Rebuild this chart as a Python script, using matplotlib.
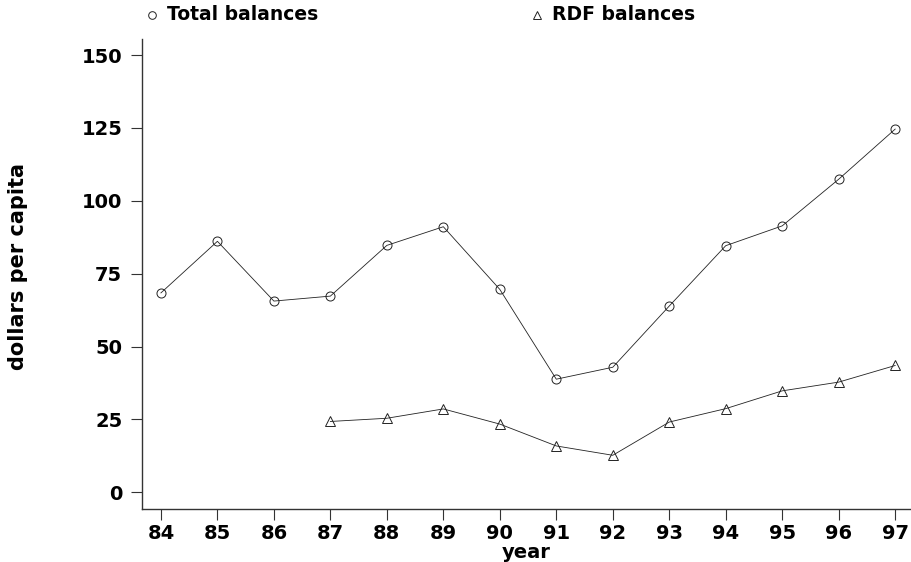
import matplotlib
matplotlib.use("Agg")
import matplotlib.pyplot as plt
from matplotlib.lines import Line2D

# balances per capita by fiscal year
years = [84, 85, 86, 87, 88, 89, 90, 91, 92, 93, 94, 95, 96, 97]
total_balances = [68.4, 86.1, 65.6, 67.3, 84.7, 91.1, 69.6, 38.8, 42.9, 63.9, 84.6, 91.4, 107.4, 124.6]
rdf_years = [87, 88, 89, 90, 91, 92, 93, 94, 95, 96, 97]
rdf_balances = [24.3, 25.4, 28.6, 23.4, 15.9, 12.7, 24.1, 28.7, 34.8, 37.8, 43.5]
y_ticks = [0, 25, 50, 75, 100, 125, 150]

plt.rcParams['font.family'] = ['DejaVu Sans']

fig = plt.figure(figsize=(9.12, 5.62), dpi=100)
ax = fig.add_axes([0.1554, 0.0943, 0.8435, 0.8363])

line_kw = dict(color='#222222', linewidth=0.6, markersize=6.5,
               markerfacecolor='none', markeredgecolor='#222222',
               markeredgewidth=0.7)
ax.plot(years, total_balances, marker='o', **line_kw)
ax.plot(rdf_years, rdf_balances, marker='^', **line_kw)

ax.set_xlim(83.66, 97.28)
ax.set_ylim(-5.73, 155.5)
ax.set_xticks(years)
ax.set_xticklabels([str(y) for y in years])
ax.set_yticks(y_ticks)

for side in ('top', 'right'):
    ax.spines[side].set_visible(False)
for side in ('left', 'bottom'):
    ax.spines[side].set_linewidth(1.0)
    ax.spines[side].set_color('#333333')

ax.tick_params(axis='both', direction='out', length=8, width=0.8,
               color='#333333', labelsize=14)
ax.tick_params(axis='y', pad=6)
ax.tick_params(axis='x', pad=3)
for lbl in ax.get_xticklabels() + ax.get_yticklabels():
    lbl.set_fontweight('bold')

fig.text(526 / 912, 1 - 552 / 562, 'year', ha='center', va='center',
         fontsize=14, fontweight='bold')
fig.text(18 / 912, 1 - 267 / 562, 'dollars per capita', ha='center',
         va='center', rotation=90, fontsize=15, fontweight='bold')

# legend keys along the top edge
legend_items = [(152, 'o', 'Total balances'), (537, '^', 'RDF balances')]
for px, mk, label in legend_items:
    fig.add_artist(Line2D([px / 912], [1 - 15 / 562], marker=mk,
                          markersize=5.5, markerfacecolor='none',
                          markeredgecolor='#222222', markeredgewidth=0.7,
                          linestyle='none', transform=fig.transFigure))
    fig.text((px + 15) / 912, 1 - 15 / 562, label, ha='left', va='center',
             fontsize=13.5, fontweight='bold')

fig.savefig('out.png', dpi=100)
